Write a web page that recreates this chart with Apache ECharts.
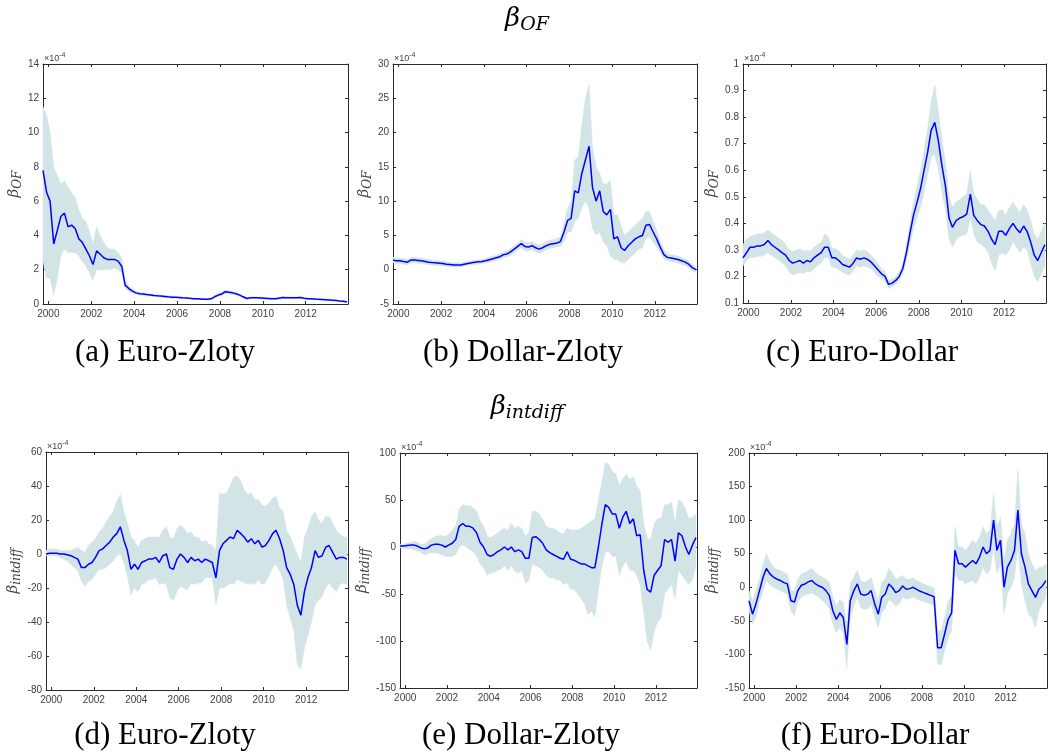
<!DOCTYPE html>
<html>
<head>
<meta charset="utf-8">
<script src="https://cdn.jsdelivr.net/npm/echarts@6.0.0/dist/echarts.min.js"></script>
<style>
html, body { margin: 0; padding: 0; background: #fff; }
#main { width: 1050px; height: 753px; }
</style>
</head>
<body>
<div id="main"></div>
<script>
// sample dates (decimal years, every two months)
var dates = [1999.75, 1999.92,
    2000.08, 2000.25, 2000.42, 2000.58, 2000.75, 2000.92,
    2001.08, 2001.25, 2001.42, 2001.58, 2001.75, 2001.92,
    2002.08, 2002.25, 2002.42, 2002.58, 2002.75, 2002.92,
    2003.08, 2003.25, 2003.42, 2003.58, 2003.75, 2003.92,
    2004.08, 2004.25, 2004.42, 2004.58, 2004.75, 2004.92,
    2005.08, 2005.25, 2005.42, 2005.58, 2005.75, 2005.92,
    2006.08, 2006.25, 2006.42, 2006.58, 2006.75, 2006.92,
    2007.08, 2007.25, 2007.42, 2007.58, 2007.75, 2007.92,
    2008.08, 2008.25, 2008.42, 2008.58, 2008.75, 2008.92,
    2009.08, 2009.25, 2009.42, 2009.58, 2009.75, 2009.92,
    2010.08, 2010.25, 2010.42, 2010.58, 2010.75, 2010.92,
    2011.08, 2011.25, 2011.42, 2011.58, 2011.75, 2011.92,
    2012.08, 2012.25, 2012.42, 2012.58, 2012.75, 2012.92,
    2013.08, 2013.25, 2013.42, 2013.58, 2013.75, 2013.92];

var yearTicks = [2000, 2002, 2004, 2006, 2008, 2010, 2012];

var subTitles = ['(a) Euro-Zloty', '(b) Dollar-Zloty', '(c) Euro-Dollar',
    '(d) Euro-Zloty', '(e) Dollar-Zloty', '(f) Euro-Dollar'];

// (a) Euro-Zloty, beta OF (x 1e-4)
var ezOfMid = [7.8, 6.5,
    6.0, 3.5, 4.3, 5.1, 5.3, 4.5,
    4.6, 4.4, 3.8, 3.6, 3.2, 2.8,
    2.3, 3.1, 2.9, 2.7, 2.6, 2.6,
    2.6, 2.5, 2.2, 1.1, 0.9, 0.75,
    0.65, 0.6, 0.58, 0.55, 0.53, 0.5,
    0.48, 0.46, 0.44, 0.42, 0.4, 0.39,
    0.38, 0.36, 0.35, 0.33, 0.31, 0.3,
    0.29, 0.28, 0.28, 0.3, 0.42, 0.52,
    0.58, 0.72, 0.68, 0.65, 0.6, 0.52,
    0.42, 0.32, 0.36, 0.37, 0.36, 0.35,
    0.34, 0.32, 0.3, 0.3, 0.34, 0.38,
    0.37, 0.36, 0.36, 0.37, 0.38, 0.33,
    0.31, 0.3, 0.29, 0.27, 0.26, 0.25,
    0.24, 0.22, 0.2, 0.18, 0.16, 0.12];
var ezOfLo = [2.5, 1.5,
    1.5, 0.5, 1.5, 2.8, 3.2, 3.0,
    3.0, 3.0, 2.8, 2.5, 2.2, 1.8,
    1.4, 2.0, 2.0, 2.0, 2.0, 2.0,
    2.1, 2.0, 1.8, 0.9, 0.75, 0.62,
    0.55, 0.52, 0.5, 0.48, 0.46, 0.44,
    0.42, 0.4, 0.38, 0.36, 0.35, 0.34,
    0.33, 0.31, 0.3, 0.29, 0.27, 0.26,
    0.25, 0.24, 0.24, 0.25, 0.35, 0.44,
    0.49, 0.62, 0.58, 0.56, 0.52, 0.45,
    0.36, 0.27, 0.31, 0.32, 0.31, 0.3,
    0.29, 0.28, 0.26, 0.26, 0.29, 0.33,
    0.32, 0.31, 0.31, 0.32, 0.33, 0.29,
    0.27, 0.26, 0.25, 0.24, 0.23, 0.22,
    0.21, 0.19, 0.17, 0.15, 0.13, 0.09];
var ezOfHi = [11.5, 11,
    10, 8, 7.5, 7, 7.2, 6.8,
    6.5, 6.2, 5.5, 5, 4.8, 4.2,
    3.5, 4.5, 4.0, 3.6, 3.3, 3.2,
    3.2, 3.0, 2.7, 1.4, 1.05, 0.88,
    0.75, 0.68, 0.65, 0.62, 0.6, 0.57,
    0.55, 0.52, 0.5, 0.48, 0.46, 0.44,
    0.43, 0.41, 0.4, 0.38, 0.36, 0.35,
    0.34, 0.33, 0.33, 0.35, 0.5, 0.6,
    0.67, 0.83, 0.78, 0.74, 0.68, 0.6,
    0.48, 0.37, 0.41, 0.42, 0.41, 0.4,
    0.39, 0.37, 0.35, 0.35, 0.39, 0.43,
    0.42, 0.41, 0.41, 0.42, 0.43, 0.38,
    0.36, 0.34, 0.33, 0.31, 0.3, 0.29,
    0.28, 0.26, 0.24, 0.22, 0.2, 0.16];

// (b) Dollar-Zloty, beta OF
var dzOfMid = [1.4, 1.3,
    1.3, 1.2, 1.1, 1.4, 1.4, 1.35,
    1.3, 1.2, 1.1, 1.05, 1.0, 0.95,
    0.9, 0.8, 0.75, 0.7, 0.7, 0.7,
    0.8, 0.9, 1.0, 1.1, 1.15, 1.2,
    1.3, 1.45, 1.6, 1.75, 1.9, 2.2,
    2.3, 2.6, 3.0, 3.4, 3.8, 3.4,
    3.3, 3.5, 3.2, 3.0, 3.2, 3.5,
    3.7, 3.8, 3.9, 4.1, 5.5, 7.2,
    7.5, 11.5, 11.2, 14, 16, 18,
    12, 10, 11.5, 8.5, 8.0, 8.8,
    4.5, 4.8, 3.2, 2.8, 3.5, 4.0,
    4.5, 4.8, 5.0, 6.5, 6.6, 5.5,
    4.5, 3.3, 2.2, 1.8, 1.7, 1.6,
    1.5, 1.3, 1.1, 0.8, 0.3, 0.0];
var dzOfLo = [1.0, 0.9,
    0.9, 0.8, 0.7, 1.0, 1.0, 0.95,
    0.9, 0.8, 0.75, 0.7, 0.65, 0.6,
    0.55, 0.5, 0.45, 0.4, 0.4, 0.4,
    0.5, 0.6, 0.7, 0.8, 0.85, 0.9,
    1.0, 1.1, 1.25, 1.4, 1.5, 1.8,
    1.9, 2.1, 2.5, 2.9, 3.2, 2.8,
    2.7, 2.9, 2.6, 2.4, 2.6, 2.9,
    3.1, 3.2, 3.3, 3.4, 4.2, 5.5,
    5.5, 7, 7.5, 9, 10, 9,
    6, 5, 5.5, 4, 3.5, 2,
    1.5, 1.5, 1, 1, 1.5, 2,
    2.5, 3, 3.2, 4.5, 4.8, 4,
    3.3, 2.5, 1.6, 1.3, 1.2, 1.1,
    1.0, 0.8, 0.6, 0.3, -0.2, -0.4];
var dzOfHi = [1.8, 1.7,
    1.7, 1.6, 1.5, 1.8, 1.8, 1.75,
    1.7, 1.6, 1.5, 1.4, 1.35, 1.3,
    1.25, 1.15, 1.05, 1.0, 1.0, 1.0,
    1.1, 1.2, 1.3, 1.4, 1.45, 1.5,
    1.6, 1.8, 1.95, 2.1, 2.3, 2.6,
    2.75, 3.1, 3.5, 3.9, 4.4, 4.0,
    3.9, 4.1, 3.8, 3.6, 3.8, 4.1,
    4.3, 4.4, 4.5, 4.8, 6.8, 9,
    10, 16, 16.5, 21, 25, 27,
    18, 15, 14, 12.5, 12.5, 13,
    8, 8, 6.5, 5, 5.5, 6,
    6.5, 7, 7.5, 8.5, 8.5, 7,
    5.8, 4.2, 2.9, 2.4, 2.2, 2.1,
    2.0, 1.8, 1.6, 1.3, 0.8, 0.4];

// (c) Euro-Dollar, beta OF
var edOfMid = [0.27, 0.29,
    0.31, 0.31, 0.315, 0.315, 0.32, 0.335,
    0.32, 0.31, 0.30, 0.29, 0.28, 0.26,
    0.25, 0.255, 0.26, 0.25, 0.26, 0.255,
    0.27, 0.28, 0.29, 0.31, 0.31, 0.27,
    0.27, 0.26, 0.245, 0.24, 0.235, 0.25,
    0.27, 0.265, 0.27, 0.265, 0.255, 0.24,
    0.225, 0.21, 0.2, 0.17, 0.175, 0.185,
    0.2, 0.23, 0.29, 0.36, 0.43, 0.48,
    0.53, 0.6, 0.67, 0.75, 0.78, 0.71,
    0.62, 0.54, 0.42, 0.385, 0.41, 0.42,
    0.425, 0.435, 0.51, 0.43, 0.41, 0.395,
    0.39, 0.37, 0.34, 0.32, 0.37, 0.37,
    0.355, 0.38, 0.40, 0.38, 0.365, 0.39,
    0.37, 0.33, 0.28, 0.26, 0.29, 0.32];
var edOfLo = [0.24, 0.26,
    0.27, 0.27, 0.275, 0.275, 0.28, 0.29,
    0.28, 0.27, 0.26, 0.25, 0.24, 0.215,
    0.205, 0.21, 0.215, 0.21, 0.22, 0.215,
    0.23, 0.24, 0.25, 0.27, 0.27, 0.235,
    0.235, 0.225, 0.215, 0.21, 0.205, 0.22,
    0.24, 0.235, 0.24, 0.235, 0.23, 0.215,
    0.2, 0.19, 0.18, 0.155, 0.16, 0.17,
    0.185, 0.21, 0.26, 0.32, 0.38, 0.42,
    0.46, 0.52, 0.58, 0.65, 0.66, 0.6,
    0.52, 0.45, 0.34, 0.31, 0.34, 0.35,
    0.355, 0.36, 0.42, 0.36, 0.33, 0.32,
    0.31, 0.29, 0.25, 0.22, 0.28, 0.29,
    0.28, 0.3, 0.33, 0.31, 0.29, 0.31,
    0.3, 0.25, 0.2, 0.18, 0.21, 0.24];
var edOfHi = [0.32, 0.34,
    0.35, 0.355, 0.36, 0.36, 0.365, 0.375,
    0.365, 0.355, 0.345, 0.335, 0.32, 0.3,
    0.295, 0.3, 0.305, 0.295, 0.3, 0.295,
    0.31, 0.32, 0.33, 0.36, 0.35, 0.305,
    0.305, 0.295, 0.28, 0.27, 0.265, 0.28,
    0.3, 0.295, 0.3, 0.295, 0.28, 0.265,
    0.25, 0.23, 0.22, 0.185, 0.19, 0.2,
    0.215, 0.25, 0.32, 0.4, 0.48, 0.54,
    0.6, 0.68, 0.76, 0.86, 0.92, 0.82,
    0.72, 0.63, 0.5, 0.46, 0.48, 0.49,
    0.5, 0.51, 0.6, 0.51, 0.49, 0.47,
    0.47, 0.45, 0.43, 0.41, 0.45, 0.45,
    0.43, 0.46, 0.48, 0.46, 0.44, 0.47,
    0.45, 0.41, 0.36, 0.34, 0.37, 0.40];

// (d) Euro-Zloty, beta intdiff
var ezIdMid = [0, 0.5,
    0.5, 0.5, 0, 0, -0.5, -1,
    -2, -3, -8, -8, -6, -5,
    -2, 2, 3, 5, 7, 10,
    12, 16, 8, 2, -9, -6,
    -9, -5, -4, -3, -3, -2,
    -5, -1, 0, -8, -9, -3,
    0, -2, -5, -2, -4, -3,
    -5, -3, -4, -5, -14, 2,
    6, 8, 10, 9, 14, 12,
    10, 7, 9, 6, 8, 4,
    5, 8, 12, 14, 9, 2,
    -8, -12, -18, -30, -36, -22,
    -14, -8, 2, -2, -1, 4,
    5, 1, -3, -2, -2, -3];
var ezIdLo = [-1, -1,
    -1, -1, -2, -3, -4, -6,
    -8, -10, -16, -19, -16, -15,
    -12, -9, -9, -8, -6, -4,
    -1, 0, -5, -13, -24, -20,
    -22, -18, -17, -15, -15, -14,
    -18, -17, -18, -26, -27, -22,
    -19, -20, -21, -17, -18, -17,
    -17, -14, -14, -14, -30, -20,
    -20, -19, -17, -18, -15, -16,
    -17, -18, -17, -18, -15, -18,
    -17, -13, -8, -6, -10, -15,
    -30, -38, -45, -65, -68, -55,
    -48, -40, -30, -27, -25, -20,
    -17, -20, -22, -18, -17, -18];
var ezIdHi = [2, 3,
    3, 3, 2, 2, 2, 2,
    3, 4, 2, 1, 5, 7,
    9, 13, 15, 19, 22, 25,
    31, 35, 25, 18, 10, 8,
    4, 8, 9, 10, 10, 10,
    10, 14, 16, 10, 9, 15,
    17, 15, 12, 13, 10, 10,
    7, 8, 6, 5, 2, 36,
    35, 36, 40, 45, 46, 43,
    38, 35, 36, 32, 32, 29,
    28, 30, 33, 34, 27, 25,
    14, 10, 5, 0, -5, 10,
    15, 22, 25, 20, 18, 22,
    22, 18, 14, 12, 10, 10];

// (e) Dollar-Zloty, beta intdiff
var dzIdMid = [1, 1,
    1.5, 2, 2, 1, -1, -2,
    -1, 2, 3, 3, 2, 0,
    2, 4, 8, 22, 25, 22,
    22, 20, 15, 5, 0, -8,
    -10, -8, -5, -3, 0, -3,
    0, -5, -3, -5, -12, -12,
    10, 11, 8, 4, -3, -6,
    -8, -10, -12, -13, -5, -13,
    -14, -16, -18, -18, -20, -22,
    -22, 0, 25, 45, 42, 35,
    35, 20, 32, 38, 25, 30,
    12, 13, -25, -45, -48, -30,
    -25, -20, 8, 5, 8, -15,
    15, 12, 0, -8, 2, 10];
var dzIdLo = [-1, -1,
    -2, -2, -3, -4, -6, -8,
    -7, -6, -6, -7, -8, -10,
    -10, -10, -8, 0, 2, 0,
    -3, -5, -10, -18, -22, -30,
    -28, -27, -25, -24, -20, -25,
    -20, -26, -28, -25, -38, -36,
    -18, -20, -22, -25, -30, -33,
    -33, -35, -35, -40, -38, -45,
    -45, -50, -55, -60, -72, -68,
    -75, -45, -20, -5, -5, -10,
    -10, -30, -20, -15, -25, -25,
    -30, -40, -70, -100, -110, -90,
    -80, -75, -50, -45, -40, -55,
    -25, -30, -35, -40, -35, -20];
var dzIdHi = [3, 3,
    4, 5, 6, 5, 3, 3,
    6, 9, 11, 12, 12, 11,
    14, 18, 22, 40, 45, 44,
    44, 42, 38, 28, 22, 12,
    10, 12, 15, 18, 20, 18,
    25, 20, 22, 20, 12, 15,
    38, 38, 35, 30, 22, 20,
    20, 18, 15, 14, 20, 18,
    18, 18, 20, 22, 25, 28,
    30, 50, 70, 90, 88, 80,
    78, 65, 72, 78, 72, 75,
    65, 60, 25, 10, 8, 25,
    30, 30, 45, 45, 48, 25,
    50, 48, 40, 30, 32, 35];

// (f) Euro-Dollar, beta intdiff
var edIdMid = [-20, -40,
    -25, -5, 15, 28, 20, 15,
    12, 10, 7, 5, -20, -22,
    -5, 3, 5, 8, 10, 5,
    2, 0, -5, -12, -35, -48,
    -38, -45, -85, -20, -5, 5,
    -10, -12, -10, -5, -25, -40,
    -15, -10, 5, 0, -8, -5,
    2, -3, -2, 0, -3, -6,
    -8, -10, -12, -14, -90, -90,
    -70, -48, -38, 55, 35, 35,
    30, 35, 40, 35, 45, 60,
    50, 55, 100, 55, 70, 0,
    30, 40, 55, 115, 50, 30,
    5, -5, -15, -3, 2, 10];
var edIdLo = [-35, -55,
    -45, -22, -5, 10, 3, 0,
    -3, -5, -8, -10, -35, -42,
    -22, -15, -12, -10, -8, -12,
    -15, -20, -25, -32, -55, -68,
    -60, -68, -120, -45, -28, -15,
    -30, -33, -32, -25, -45, -60,
    -38, -32, -18, -22, -28, -25,
    -15, -18, -17, -15, -17, -20,
    -21, -23, -25, -27, -115, -115,
    -95, -75, -65, 20, 10, 10,
    5, 8, 10, 5, 15, 30,
    20, 25, 60, 20, 35, -40,
    -10, 0, 15, 60, 5, -20,
    -40, -45, -60, -35, -25, -15];
var edIdHi = [-5, -20,
    -5, 12, 35, 50, 38, 30,
    27, 25, 22, 20, -5, -5,
    12, 20, 22, 25, 28, 22,
    18, 15, 12, 8, -15, -28,
    -18, -22, -55, 5, 15, 25,
    10, 8, 10, 15, -5, -20,
    8, 12, 28, 22, 12, 15,
    18, 12, 12, 14, 10, 8,
    5, 3, 1, -1, -65, -65,
    -45, -22, -12, 90, 60, 60,
    55, 62, 70, 65, 75, 90,
    80, 85, 140, 90, 105, 40,
    70, 80, 95, 175, 95, 80,
    50, 35, 25, 30, 30, 35];

var AXIS_COLOR = '#2b2b2b';
var LABEL_COLOR = '#404040';
var BAND_COLOR = '#d3e4e6';
var LINE_COLOR = '#0000ff';
var MATH_FONT = 'DejaVu Serif';

var mathRich = function (size, subSize, color) {
    return {
        b: { fontFamily: MATH_FONT, fontStyle: 'italic', fontWeight: 'normal',
            fontSize: size, color: color },
        s: { fontFamily: MATH_FONT, fontStyle: 'italic', fontWeight: 'normal',
            fontSize: subSize, color: color, padding: [Math.round(size * 0.5), 0, 0, 0] }
    };
};

var panels = [
    { mid: ezOfMid, lo: ezOfLo, hi: ezOfHi, left: 43, top: 64, width: 305, height: 240,
      min: 0, max: 14, step: 2, sub: 'OF', nameGap: 17, labelX: 165, labelY: 337 },
    { mid: dzOfMid, lo: dzOfLo, hi: dzOfHi, left: 393, top: 64, width: 304, height: 240,
      min: -5, max: 30, step: 5, sub: 'OF', nameGap: 17, labelX: 523, labelY: 337 },
    { mid: edOfMid, lo: edOfLo, hi: edOfHi, left: 743, top: 64, width: 303, height: 239,
      min: 0.1, max: 1, step: 0.1, sub: 'OF', nameGap: 17, labelX: 862, labelY: 337 },
    { mid: ezIdMid, lo: ezIdLo, hi: ezIdHi, left: 46, top: 452, width: 302, height: 238,
      min: -80, max: 60, step: 20, sub: 'intdiff', nameGap: 23, labelX: 165, labelY: 720 },
    { mid: dzIdMid, lo: dzIdLo, hi: dzIdHi, left: 400, top: 453, width: 297, height: 235,
      min: -150, max: 100, step: 50, sub: 'intdiff', nameGap: 23, labelX: 521, labelY: 720 },
    { mid: edIdMid, lo: edIdLo, hi: edIdHi, left: 749, top: 453, width: 298, height: 235,
      min: -150, max: 200, step: 50, sub: 'intdiff', nameGap: 23, labelX: 875, labelY: 720 }
];

// confidence band drawn as one polygon through the axis scales
function bandRenderer(p) {
    return function (params, api) {
        if (params.dataIndex !== 0) {
            return null;
        }
        var upper = [], lower = [];
        for (var k = 0; k < dates.length; k++) {
            upper.push(api.coord([dates[k], p.hi[k]]));
            lower.unshift(api.coord([dates[k], p.lo[k]]));
        }
        return {
            type: 'polygon',
            shape: { points: upper.concat(lower) },
            style: { fill: BAND_COLOR, stroke: BAND_COLOR, lineWidth: 0.5 }
        };
    };
}

function drawChart() {
    var chart = echarts.init(document.getElementById('main'));
    var grids = [], xAxes = [], yAxes = [], series = [];
    var titles = [
        { text: '{b|β}{s|OF}', left: 527, top: 3, textAlign: 'center', padding: 0,
          textStyle: { fontWeight: 'normal', rich: mathRich(26, 19, '#000') } },
        { text: '{b|β}{s|intdiff}', left: 527, top: 391, textAlign: 'center', padding: 0,
          textStyle: { fontWeight: 'normal', rich: mathRich(26, 19, '#000') } }
    ];

    panels.forEach(function (p, i) {
        grids.push({ left: p.left, top: p.top, width: p.width, height: p.height,
            containLabel: false, outerBoundsMode: 'none' });

        var lineStyle = { color: AXIS_COLOR, width: 1 };
        xAxes.push({
            gridIndex: i, type: 'value', position: 'bottom', min: 1999.75, max: 2013.97,
            axisLine: { onZero: false, lineStyle: lineStyle },
            axisTick: { inside: true, length: 3, customValues: yearTicks, lineStyle: lineStyle },
            axisLabel: { customValues: yearTicks, color: LABEL_COLOR, fontSize: 10,
                fontFamily: 'Liberation Sans', margin: 5,
                formatter: function (v) { return String(v); } },
            splitLine: { show: false }
        });
        xAxes.push({
            gridIndex: i, type: 'value', position: 'top', min: 1999.75, max: 2013.97,
            axisLine: { onZero: false, lineStyle: lineStyle },
            axisTick: { inside: true, length: 3, customValues: yearTicks, lineStyle: lineStyle },
            axisLabel: { show: false },
            splitLine: { show: false }
        });
        yAxes.push({
            gridIndex: i, type: 'value', position: 'left', min: p.min, max: p.max, interval: p.step,
            axisLine: { show: true, onZero: false, lineStyle: lineStyle },
            axisTick: { show: true, inside: true, length: 3, lineStyle: lineStyle },
            axisLabel: { color: LABEL_COLOR, fontSize: 10, fontFamily: 'Liberation Sans', margin: 4,
                formatter: function (v) { return String(Math.round(v * 10) / 10); } },
            splitLine: { show: false },
            name: '{b|β}{s|' + p.sub + '}', nameLocation: 'middle', nameRotate: 90, nameGap: p.nameGap,
            nameTextStyle: { rich: mathRich(15, 12, '#444') }
        });
        yAxes.push({
            gridIndex: i, type: 'value', position: 'right', min: p.min, max: p.max, interval: p.step,
            axisLine: { show: true, onZero: false, lineStyle: lineStyle },
            axisTick: { show: true, inside: true, length: 3, lineStyle: lineStyle },
            axisLabel: { show: false },
            splitLine: { show: false }
        });

        series.push({
            type: 'custom', xAxisIndex: i * 2, yAxisIndex: i * 2, silent: true, z: 1,
            data: dates.map(function (d, k) { return [d, p.lo[k], p.hi[k]]; }),
            encode: { x: 0, y: [1, 2] },
            renderItem: bandRenderer(p)
        });
        series.push({
            type: 'line', xAxisIndex: i * 2, yAxisIndex: i * 2,
            data: dates.map(function (d, k) { return [d, p.mid[k]]; }),
            symbol: 'none', silent: true,
            lineStyle: { color: LINE_COLOR, width: 1.5 }, z: 3
        });

        titles.push({
            text: '{a|×10}{e|-4}', left: p.left + 1, top: p.top - 12, padding: 0,
            textStyle: { fontWeight: 'normal', rich: {
                a: { fontSize: 9, fontWeight: 'normal', color: LABEL_COLOR, fontFamily: 'Liberation Sans' },
                e: { fontSize: 7, fontWeight: 'normal', color: LABEL_COLOR, fontFamily: 'Liberation Sans',
                    padding: [0, 0, 6, 0] }
            } }
        });
        titles.push({
            text: subTitles[i], left: p.labelX, top: p.labelY, textAlign: 'center', padding: 0,
            textStyle: { fontFamily: 'Liberation Serif', fontSize: 31, fontWeight: 'normal', color: '#000' }
        });
    });

    var option = {
        animation: false,
        backgroundColor: '#fff',
        title: titles,
        grid: grids,
        xAxis: xAxes,
        yAxis: yAxes,
        series: series
    };
    chart.setOption(option, true);
    window.onresize = chart.resize;
}

drawChart();
</script>
</body>
</html>
